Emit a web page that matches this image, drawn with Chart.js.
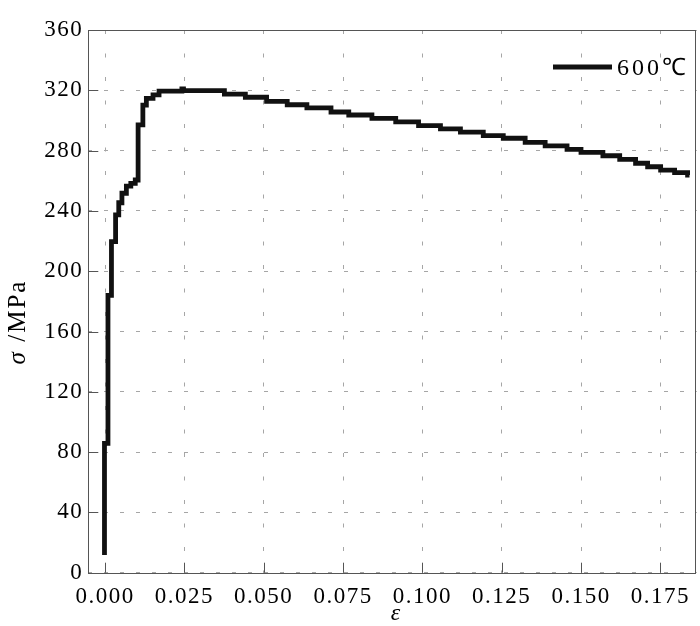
<!DOCTYPE html>
<html lang="en">
<head>
    <meta charset="UTF-8">
    <script src="https://cdn.jsdelivr.net/npm/chart.js@4.4.0/dist/chart.umd.min.js"></script>
    <title>600C stress-strain</title>
    <style>
        body { margin: 0; background: #fff; }
    </style>
</head>
<body>

    <canvas id="chart" width="700" height="626"></canvas>

    <script>
    // values (step corners of the curve)
    const strain = [-0.0002, -0.0002, 0.0009, 0.0020, 0.0033, 0.0043, 0.0053, 0.0067, 0.0081, 0.0095,
        0.0104, 0.0119, 0.0130, 0.0151, 0.0170, 0.0242, 0.0247, 0.0376, 0.0442, 0.0509,
        0.0574, 0.0636, 0.0712, 0.0768, 0.0841, 0.0916, 0.0988, 0.1057, 0.1120, 0.1192,
        0.1255, 0.1324, 0.1387, 0.1456, 0.1500, 0.1569, 0.1622, 0.1672, 0.1710, 0.1751,
        0.1795, 0.1836, 0.1842];
    const stress = [11.7, 85.8, 184, 219.6, 237.3, 245.4, 251.7, 256.5, 258.3, 260.5,
        297, 310.2, 314.7, 316.9, 319.5, 321, 319.8, 317.5, 315.4, 312.7,
        310.4, 308.3, 305.6, 303.6, 301.4, 299, 296.6, 294.4, 292.2, 289.9,
        288.2, 285.5, 283.2, 280.8, 278.8, 276.6, 274.2, 271.6, 269.3, 267.1,
        265.4, 263.8, 263.8];
    const seriesLabel = '600℃';
    const xTicks = [0, 0.025, 0.05, 0.075, 0.1, 0.125, 0.15, 0.175];
    const yTicks = [0, 40, 80, 120, 160, 200, 240, 280, 320, 360];

    const serif = '"Liberation Serif", "Times New Roman", serif';
    const axisColor = '#555';

    const points = strain.map((x, i) => ({ x: x, y: stress[i] }));

    // frame, inward ticks, legend and axis titles
    const decor = {
        id: 'decor',
        beforeLayout(chart) { chart.ctx.letterSpacing = '1.5px'; },
        beforeDraw(chart) { chart.ctx.letterSpacing = '1.5px'; },
        afterDraw(chart) {
            const ctx = chart.ctx;
            const a = chart.chartArea;
            const xs = chart.scales.x, ys = chart.scales.y;
            ctx.save();
            ctx.strokeStyle = axisColor;
            ctx.lineWidth = 1;
            ctx.strokeRect(Math.round(a.left) + 0.5, Math.round(a.top) + 0.5,
                Math.round(a.right - a.left) - 1, Math.round(a.bottom - a.top));
            ctx.beginPath();
            xTicks.forEach(v => {
                const px = Math.round(xs.getPixelForValue(v)) + 0.5;
                ctx.moveTo(px, a.bottom);
                ctx.lineTo(px, a.bottom - 10);
            });
            yTicks.forEach(v => {
                const py = Math.round(ys.getPixelForValue(v)) + 0.5;
                ctx.moveTo(a.left, py);
                ctx.lineTo(a.left + 10, py);
            });
            ctx.stroke();

            // legend
            const ds = chart.data.datasets[0];
            ctx.strokeStyle = ds.borderColor;
            ctx.lineWidth = 5;
            ctx.beginPath();
            ctx.moveTo(553, 67);
            ctx.lineTo(612, 67);
            ctx.stroke();
            ctx.fillStyle = '#000';
            ctx.letterSpacing = '3px';
            ctx.font = '24px ' + serif;
            ctx.textBaseline = 'middle';
            ctx.textAlign = 'left';
            ctx.fillText(ds.label, 617, 69);

            // x title
            ctx.letterSpacing = '0px';
            ctx.font = 'italic 24px ' + serif;
            ctx.textAlign = 'center';
            ctx.fillText('ε', (a.left + a.right) / 2 + 3, 614);

            // y title: italic sigma + upright unit
            ctx.translate(25, 322);
            ctx.rotate(-Math.PI / 2);
            ctx.textBaseline = 'alphabetic';
            ctx.textAlign = 'left';
            ctx.letterSpacing = '2px';
            ctx.font = 'italic 25px ' + serif;
            const s1 = 'σ ';
            const w1 = ctx.measureText(s1).width;
            ctx.font = '25px ' + serif;
            const s2 = '/MPa';
            const w2 = ctx.measureText(s2).width;
            let x0 = -(w1 + w2) / 2;
            ctx.font = 'italic 25px ' + serif;
            ctx.fillText(s1, x0, 0);
            ctx.font = '25px ' + serif;
            ctx.fillText(s2, x0 + w1, 0);
            ctx.restore();
        }
    };

    const ctx = document.getElementById('chart').getContext('2d');
    new Chart(ctx, {
        type: 'line',
        data: {
            datasets: [{
                label: seriesLabel,
                data: points,
                stepped: 'before',
                borderColor: '#111',
                borderWidth: 4.8,
                borderJoinStyle: 'miter',
                pointRadius: 0,
                fill: false,
                tension: 0
            }]
        },
        options: {
            responsive: false,
            animation: false,
            layout: { padding: { top: 30, right: 1, left: 0, bottom: 0 } },
            plugins: {
                legend: { display: false },
                tooltip: { enabled: false }
            },
            scales: {
                x: {
                    type: 'linear',
                    min: -0.0053,
                    max: 0.1865,
                    afterBuildTicks: scale => { scale.ticks = xTicks.map(v => ({ value: v })); },
                    afterFit: scale => { scale.height = 53.3; },
                    border: { display: false, dash: [4, 19.5] },
                    grid: {
                        color: '#a6a6a6',
                        lineWidth: 1,
                        drawTicks: false,
                        tickLength: 0
                    },
                    ticks: {
                        color: '#000',
                        padding: 10,
                        maxRotation: 0,
                        autoSkip: false,
                        font: { family: serif, size: 23 },
                        callback: v => v.toFixed(3)
                    }
                },
                y: {
                    min: 0,
                    max: 360,
                    afterBuildTicks: scale => { scale.ticks = yTicks.map(v => ({ value: v })); },
                    afterFit: scale => { scale.width = 88.3; },
                    border: { display: false, dash: [4, 12] },
                    grid: {
                        color: '#a6a6a6',
                        lineWidth: 1,
                        drawTicks: false,
                        tickLength: 0
                    },
                    ticks: {
                        color: '#000',
                        padding: 5,
                        font: { family: serif, size: 23 }
                    }
                }
            }
        },
        plugins: [decor]
    });
    </script>
</body>
</html>
